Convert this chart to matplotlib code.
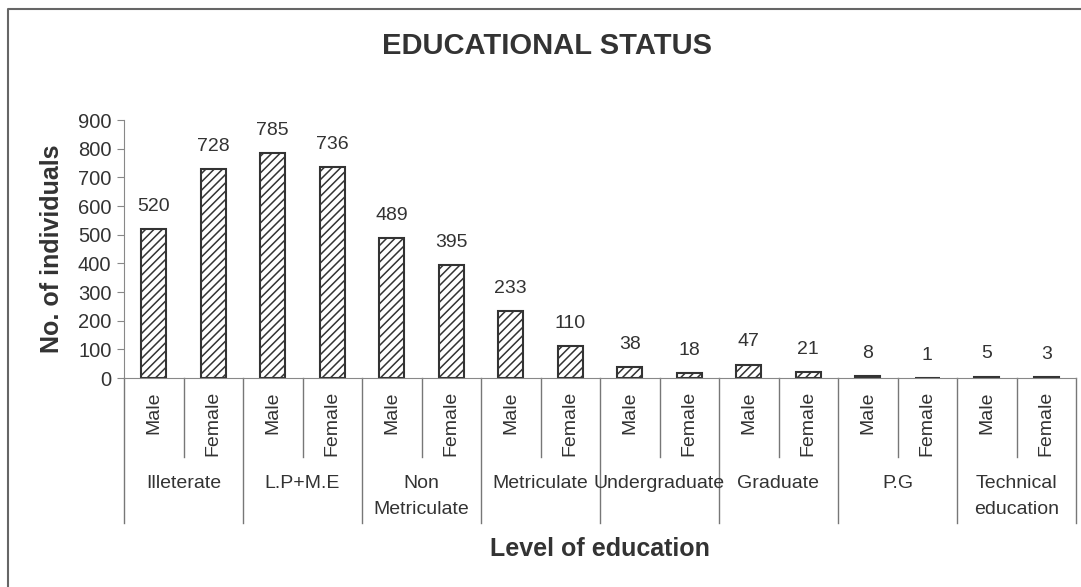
import matplotlib
matplotlib.use("Agg")
import matplotlib.pyplot as plt
from matplotlib.lines import Line2D

groups = ["Illeterate", "L.P+M.E", "Non\nMetriculate", "Metriculate", "Undergraduate",
          "Graduate", "P.G", "Technical\neducation"]
sexes = ["Male", "Female"]
male = [520, 785, 489, 233, 38, 47, 8, 5]
female = [728, 736, 395, 110, 18, 21, 1, 3]
yticks = [0, 100, 200, 300, 400, 500, 600, 700, 800, 900]

plt.rcParams['font.family'] = ['Liberation Sans', 'DejaVu Sans']
plt.rcParams['hatch.linewidth'] = 1.1
plt.rcParams['hatch.color'] = '#333333'

W, H = 1081, 587
fig = plt.figure(figsize=(W / 100, H / 100), dpi=100)
x0, x1, y0, y1 = 124, 1076, 378, 120
ax = fig.add_axes([x0 / W, 1 - y0 / H, (x1 - x0) / W, (y0 - y1) / H])

values = []
labels = []
for m, f in zip(male, female):
    values += [m, f]
    labels += sexes
n = len(values)
pos = [i + 0.5 for i in range(n)]
ax.bar(pos, values, width=0.42, color='white', edgecolor='#333333', linewidth=1.5, hatch='////')
for p, v in zip(pos, values):
    ax.text(p, v + 900 * 0.055, str(v), ha='center', va='bottom', fontsize=14, color='#333333')

ax.set_xlim(0, n)
ax.set_ylim(0, 900)
ax.set_yticks(yticks)
ax.set_xticks([])
for s in ['top', 'right']:
    ax.spines[s].set_visible(False)
ax.spines['left'].set_color('#888888')
ax.spines['bottom'].set_color('#888888')
ax.tick_params(axis='y', direction='out', length=5, color='#888888', labelsize=14.5,
               labelcolor='#333333', pad=4)

# category axis labels and separators
px = 1.0 / (y0 - y1)  # axes fraction per pixel vertically
trans = ax.get_xaxis_transform()
for i in range(n + 1):
    depth = 145 if i % 2 == 0 else 79
    ax.add_line(Line2D([i, i], [0, -depth * px], transform=trans, color='#777777',
                       linewidth=1.0, clip_on=False))
for i, lab in enumerate(labels):
    ax.text(i + 0.5, -13 * px, lab, transform=trans, rotation=90, ha='center', va='top',
            fontsize=14, color='#333333')
for g, lab in enumerate(groups):
    ax.text(2 * g + 1, -97 * px, lab, transform=trans, ha='center', va='top',
            fontsize=14, color='#333333', linespacing=1.7, multialignment='center')

ax.set_ylabel("No. of individuals", fontsize=18, fontweight='bold', color='#333333', labelpad=10)
fig.text(547 / W, 1 - 46 / H, "EDUCATIONAL STATUS", ha='center', va='center', fontsize=21,
         fontweight='bold', color='#333333')
fig.text(600 / W, 1 - 549 / H, "Level of education", ha='center', va='center', fontsize=18,
         fontweight='bold', color='#333333')

# chart border (left and top)
fig.add_artist(Line2D([8 / W, 8 / W, 1.0], [0, 1 - 9 / H, 1 - 9 / H], transform=fig.transFigure,
                      color='#666666', linewidth=1.5))

fig.savefig("out.png", dpi=100)
